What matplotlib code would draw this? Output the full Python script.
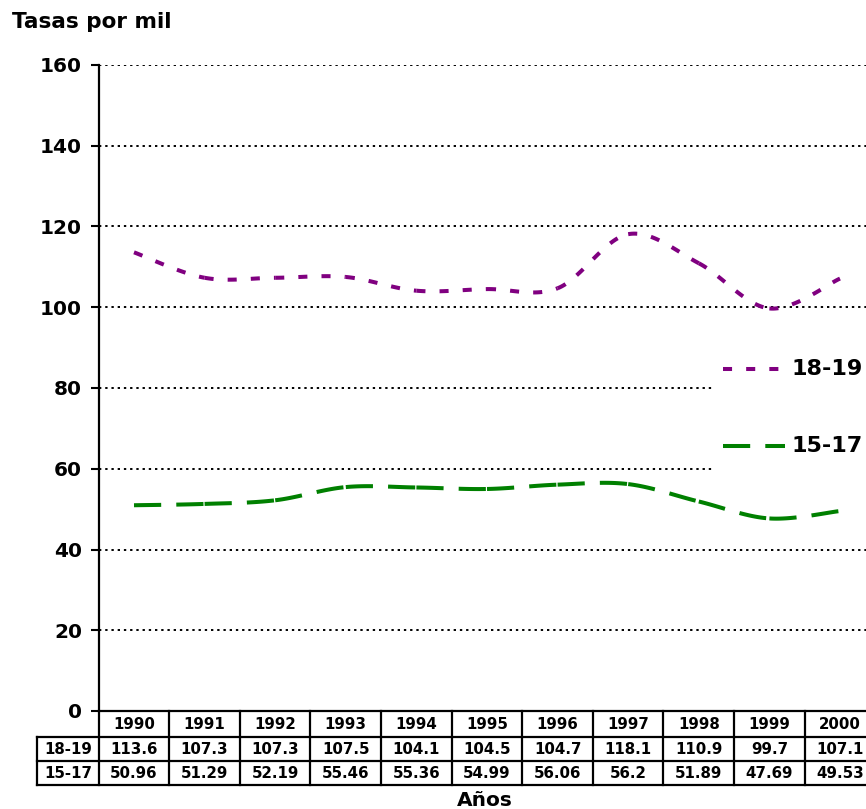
import numpy as np
import matplotlib
matplotlib.use("Agg")
import matplotlib.pyplot as plt
from matplotlib.lines import Line2D
from matplotlib.patches import Rectangle
import matplotlib.transforms as mtransforms

plt.rcParams['font.family'] = ['DejaVu Sans']
plt.rcParams['font.weight'] = 'bold'

# ---------------- data ----------------
years = ['1990', '1991', '1992', '1993', '1994', '1995', '1996', '1997', '1998', '1999', '2000']
series_names = ['18-19', '15-17']
rate_18_19 = [113.6, 107.3, 107.3, 107.5, 104.1, 104.5, 104.7, 118.1, 110.9, 99.7, 107.1]
rate_15_17 = [50.96, 51.29, 52.19, 55.46, 55.36, 54.99, 56.06, 56.2, 51.89, 47.69, 49.53]
y_ticks = [0, 20, 40, 60, 80, 100, 120, 140, 160]
y_title = 'Tasas por mil'
x_title = 'Años'

colors = ['#800080', '#008000']
dashes = [(2.25, 3.5), (6.75, 3.75)]
LW = 2.9

W, H = 866, 809
fig = plt.figure(figsize=(W / 100, H / 100), dpi=100)

# axes in pixel geometry
x0, x1 = 98.7, 98.7 + 70.6 * 11
y_top, y_bot = 65.0, 711.0
ax = fig.add_axes([x0 / W, (H - y_bot) / H, (x1 - x0) / W, (y_bot - y_top) / H])
ax.set_xlim(-0.5, len(years) - 0.5)
ax.set_ylim(0, 160)
ax.set_yticks(y_ticks)
ax.set_xticks([])
ax.tick_params(axis='y', direction='out', length=6, width=1.5, pad=6, labelsize=14.5)
for lab in ax.get_yticklabels():
    lab.set_fontweight('bold')
for s in ['top', 'right']:
    ax.spines[s].set_visible(False)
for s in ['left', 'bottom']:
    ax.spines[s].set_linewidth(1.6)
    ax.spines[s].set_color('black')

# gridlines
for t in y_ticks[1:]:
    ax.axhline(t, color='black', lw=1.4, linestyle=(0, (1.2, 2.0)), zorder=1)


def bezier_segments(yv, n=40):
    x = np.arange(len(yv), dtype=float)
    y = np.asarray(yv, dtype=float)
    p = np.column_stack([x, y])
    m = np.zeros_like(p)
    m[1:-1] = (p[2:] - p[:-2]) / 2.0
    m[0] = (p[1] - p[0]) / 2.0
    m[-1] = (p[-1] - p[-2]) / 2.0
    t = np.linspace(0, 1, n)[:, None]
    segs = []
    for i in range(len(p) - 1):
        b0 = p[i]; b3 = p[i + 1]
        b1 = p[i] + m[i] / 3.0
        b2 = p[i + 1] - m[i + 1] / 3.0
        c = ((1 - t) ** 3) * b0 + 3 * ((1 - t) ** 2) * t * b1 + 3 * (1 - t) * t ** 2 * b2 + t ** 3 * b3
        segs.append(c)
    return segs


for vals, col, dsh in zip([rate_18_19, rate_15_17], colors, dashes):
    for seg in bezier_segments(vals):
        ln = Line2D(seg[:, 0], seg[:, 1], color=col, lw=LW, linestyle=(0, dsh),
                    solid_capstyle='butt', dash_capstyle='butt', zorder=3)
        ax.add_line(ln)

# pixel-to-axes helpers
def ax_y(py):
    return (y_bot - py) / (y_bot - y_top)

def ax_x(px):
    return (px - x0) / (x1 - x0)

# legend (manual, white background)
ax.add_patch(Rectangle((ax_x(712), ax_y(520)), ax_x(900) - ax_x(712), ax_y(325) - ax_y(520),
                       transform=ax.transAxes, facecolor='white', edgecolor='none', zorder=2,
                       clip_on=False))
leg_y = [369, 446]
for name, col, dsh, py in zip(series_names, colors, dashes, leg_y):
    ax.add_line(Line2D([ax_x(723), ax_x(785)], [ax_y(py), ax_y(py)], transform=ax.transAxes,
                       color=col, lw=LW, linestyle=(0, dsh), dash_capstyle='butt', zorder=4,
                       clip_on=False))
    ax.text(ax_x(792), ax_y(py), name, transform=ax.transAxes, ha='left', va='center',
            fontsize=16, fontweight='bold', zorder=4)

# titles
fig.text(12 / W, 1 - 22 / H, y_title, ha='left', va='center', fontsize=15.5, fontweight='bold')
fig.text((x0 + x1) / 2 / W - 2 / W, 1 - 801 / H, x_title, ha='center', va='center',
         fontsize=14.5, fontweight='bold')

# data table below the axis
trans = mtransforms.blended_transform_factory(ax.transData, ax.transAxes)
row_edges = [711, 736.5, 761, 785]
label_left = -0.5 + (37 - x0) / 70.6
tlw = 1.6
for py in row_edges[1:]:
    ax.add_line(Line2D([label_left, len(years) + 0.5], [ax_y(py), ax_y(py)], transform=trans,
                       color='black', lw=tlw, clip_on=False))
for i in range(len(years) + 1):
    xb = i - 0.5
    ax.add_line(Line2D([xb, xb], [ax_y(711), ax_y(785)], transform=trans,
                       color='black', lw=tlw, clip_on=False))
ax.add_line(Line2D([label_left, label_left], [ax_y(736.5), ax_y(785)], transform=trans,
                   color='black', lw=tlw, clip_on=False))

tfs = 10.8
for i, yr in enumerate(years):
    ax.text(i, ax_y((row_edges[0] + row_edges[1]) / 2 + 1), yr, transform=trans, ha='center',
            va='center', fontsize=tfs, fontweight='bold', clip_on=False)
rows = [rate_18_19, rate_15_17]
for r, (name, vals) in enumerate(zip(series_names, rows)):
    cy = ax_y((row_edges[r + 1] + row_edges[r + 2]) / 2 + 0.5)
    ax.text((label_left - 0.5) / 2, cy, name, transform=trans, ha='center', va='center',
            fontsize=tfs, fontweight='bold', clip_on=False)
    for i, v in enumerate(vals):
        ax.text(i, cy, f"{v:g}", transform=trans, ha='center', va='center',
                fontsize=tfs, fontweight='bold', clip_on=False)

fig.savefig('out.png', dpi=100)
